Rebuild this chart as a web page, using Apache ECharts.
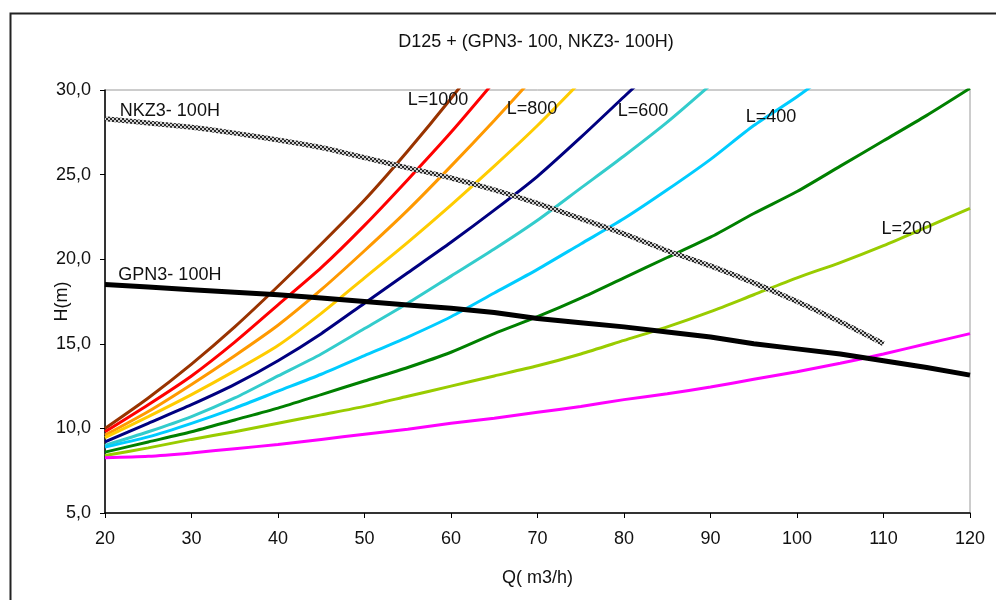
<!DOCTYPE html>
<html>
<head>
<meta charset="utf-8">
<title>D125 + (GPN3- 100, NKZ3- 100H)</title>
<script src="https://cdn.jsdelivr.net/npm/echarts@6/dist/echarts.min.js"></script>
<style>
  html, body { margin: 0; padding: 0; background: #fff; }
  #chart { width: 996px; height: 600px; }
</style>
</head>
<body>
<div id="chart"></div>
<script>
// Flow rates Q (m3/h) at which the curves are sampled
const flowQ = [20, 25, 30, 35, 40, 45, 50, 55, 60, 65, 70, 75, 80, 85, 90, 95, 100, 105, 110, 115, 120];

// System curves H(m) for pipe lengths L (m)
const hL1000 = [10.0, 11.8, 13.8, 16.0, 18.4, 20.9, 23.5, 26.4, 29.5, 32.8];
const hL900  = [9.8, 11.4, 13.1, 15.1, 17.3, 19.5, 22.0, 24.7, 27.5, 30.5];
const hL800  = [9.6, 11.0, 12.6, 14.3, 16.1, 18.2, 20.5, 22.9, 25.5, 28.2, 31.0];
const hL700  = [9.45, 10.7, 12.0, 13.4, 14.9, 16.8, 18.9, 21.0, 23.2, 25.5, 27.9, 30.5];
const hL600  = [9.2, 10.3, 11.4, 12.6, 14.0, 15.6, 17.4, 19.2, 21.0, 22.9, 24.9, 27.2, 29.6, 32.0];
const hL500  = [9.0, 9.8, 10.7, 11.8, 13.1, 14.4, 15.9, 17.4, 19.0, 20.6, 22.3, 24.2, 26.1, 28.1, 30.3];
const hL400  = [8.9, 9.5, 10.3, 11.2, 12.2, 13.2, 14.3, 15.4, 16.6, 18.0, 19.4, 20.9, 22.4, 24.1, 25.9, 27.9, 29.6, 31.5];
const hL300  = [8.6, 9.2, 9.8, 10.5, 11.2, 12.0, 12.8, 13.6, 14.5, 15.6, 16.6, 17.7, 18.9, 20.1, 21.3, 22.7, 24.0, 25.5, 27.0, 28.5, 30.1];
const hL200  = [8.4, 8.85, 9.35, 9.8, 10.3, 10.8, 11.3, 11.9, 12.5, 13.1, 13.7, 14.4, 15.2, 16.0, 16.9, 17.9, 18.9, 19.8, 20.8, 21.9, 23.0];
const hL100  = [8.27, 8.35, 8.55, 8.8, 9.05, 9.35, 9.65, 9.95, 10.3, 10.6, 10.95, 11.3, 11.7, 12.05, 12.45, 12.9, 13.35, 13.85, 14.4, 15.0, 15.6];

// Pump curves H(m)
const hGPN = [18.5, 18.35, 18.2, 18.05, 17.9, 17.7, 17.5, 17.3, 17.1, 16.85, 16.5, 16.25, 16.0, 15.7, 15.4, 15.0, 14.7, 14.4, 14.0, 13.6, 13.15];
const hNKZ = [28.3, 28.05, 27.8, 27.45, 27.05, 26.6, 26.0, 25.4, 24.8, 24.1, 23.3, 22.4, 21.5, 20.5, 19.6, 18.6, 17.5, 16.3, 15.0];

// Axis ticks
const xTicks = { min: 20, max: 120, step: 10 };
const yTicks = { min: 5, max: 30, step: 5 };

const FONT = 'Liberation Sans, Arial, sans-serif';
const TEXT_COLOR = '#111';

function pairs(values) {
  return values.map((h, i) => [flowQ[i], h]);
}

// Checkered stroke for the NKZ3 curve
function checkerPattern() {
  const c = document.createElement('canvas');
  c.width = 4; c.height = 4;
  const g = c.getContext('2d');
  g.fillStyle = '#cfcfcf';
  g.fillRect(0, 0, 4, 4);
  g.fillStyle = '#2a2a2a';
  g.fillRect(0, 0, 2, 2);
  g.fillRect(2, 2, 2, 2);
  return { image: c, repeat: 'repeat' };
}

function textMark(coord, text) {
  return {
    symbol: 'circle',
    symbolSize: 0,
    silent: true,
    data: [{ coord: coord, value: text }],
    label: {
      show: true,
      position: 'inside',
      formatter: text,
      color: TEXT_COLOR,
      fontFamily: FONT,
      fontSize: 18
    }
  };
}

function systemSeries(name, values, color, label) {
  const s = {
    name: name,
    type: 'line',
    data: pairs(values),
    showSymbol: false,
    symbol: 'none',
    smooth: 0.25,
    lineStyle: { color: color, width: 3 },
    z: 2
  };
  if (label) s.markPoint = textMark(label.coord, label.text);
  return s;
}

const chart = echarts.init(document.getElementById('chart'), null, { renderer: 'canvas' });

const option = {
  animation: false,
  backgroundColor: '#fff',
  title: {
    text: 'D125 + (GPN3- 100, NKZ3- 100H)',
    left: 531,
    top: 28,
    textAlign: 'center',
    textStyle: { fontFamily: FONT, fontSize: 18, fontWeight: 'normal', color: TEXT_COLOR }
  },
  graphic: [{
    type: 'rect',
    left: 8,
    top: 11,
    shape: { width: 1000, height: 600 },
    style: { fill: 'none', stroke: '#222', lineWidth: 2 },
    silent: true
  }],
  grid: {
    left: 105,
    right: 26,
    top: 90,
    bottom: 87,
    show: true,
    borderColor: '#9a9a9a',
    borderWidth: 1,
    backgroundColor: '#fff'
  },
  xAxis: {
    type: 'value',
    min: xTicks.min,
    max: xTicks.max,
    interval: xTicks.step,
    name: 'Q( m3/h)',
    nameLocation: 'middle',
    nameGap: 56,
    nameMoveOverlap: false,
    nameTextStyle: { fontFamily: FONT, fontSize: 18, color: TEXT_COLOR },
    axisLine: { show: true, onZero: false, lineStyle: { color: '#000', width: 1.5 } },
    axisTick: { show: true, length: 5, lineStyle: { color: '#000' } },
    axisLabel: { margin: 17, fontFamily: FONT, fontSize: 18, color: TEXT_COLOR },
    splitLine: { show: false }
  },
  yAxis: {
    type: 'value',
    min: yTicks.min,
    max: yTicks.max,
    interval: yTicks.step,
    name: 'H(m)',
    nameLocation: 'middle',
    nameRotate: 90,
    nameGap: 34,
    nameMoveOverlap: false,
    nameTextStyle: { fontFamily: FONT, fontSize: 18, color: TEXT_COLOR },
    axisLine: { show: true, onZero: false, lineStyle: { color: '#000', width: 1.5 } },
    axisTick: { show: true, length: 5, lineStyle: { color: '#000' } },
    axisLabel: {
      margin: 14,
      fontFamily: FONT,
      fontSize: 18,
      color: TEXT_COLOR,
      formatter: v => v.toFixed(1).replace('.', ',')
    },
    splitLine: { show: false }
  },
  series: [
    systemSeries('L=1000', hL1000, '#993300', { coord: [58.5, 29.41], text: 'L=1000' }),
    systemSeries('L=900', hL900, '#FF0000'),
    systemSeries('L=800', hL800, '#FF9900', { coord: [69.36, 28.88], text: 'L=800' }),
    systemSeries('L=700', hL700, '#FFCC00'),
    systemSeries('L=600', hL600, '#000080', { coord: [82.2, 28.76], text: 'L=600' }),
    systemSeries('L=500', hL500, '#33CCCC'),
    systemSeries('L=400', hL400, '#00CCFF', { coord: [97.0, 28.43], text: 'L=400' }),
    systemSeries('L=300', hL300, '#008000'),
    systemSeries('L=200', hL200, '#99CC00', { coord: [112.7, 21.81], text: 'L=200' }),
    systemSeries('L=100', hL100, '#FF00FF'),
    {
      name: 'GPN3- 100H',
      type: 'line',
      data: pairs(hGPN),
      showSymbol: false,
      symbol: 'none',
      lineStyle: { color: '#000', width: 5 },
      z: 3,
      markPoint: textMark([27.5, 19.07], 'GPN3- 100H')
    },
    {
      name: 'NKZ3- 100H',
      type: 'line',
      data: pairs(hNKZ),
      showSymbol: false,
      symbol: 'none',
      smooth: 0.25,
      lineStyle: { color: checkerPattern(), width: 5 },
      z: 4,
      markPoint: textMark([27.5, 28.77], 'NKZ3- 100H')
    }
  ]
};

chart.setOption(option);
</script>
</body>
</html>
